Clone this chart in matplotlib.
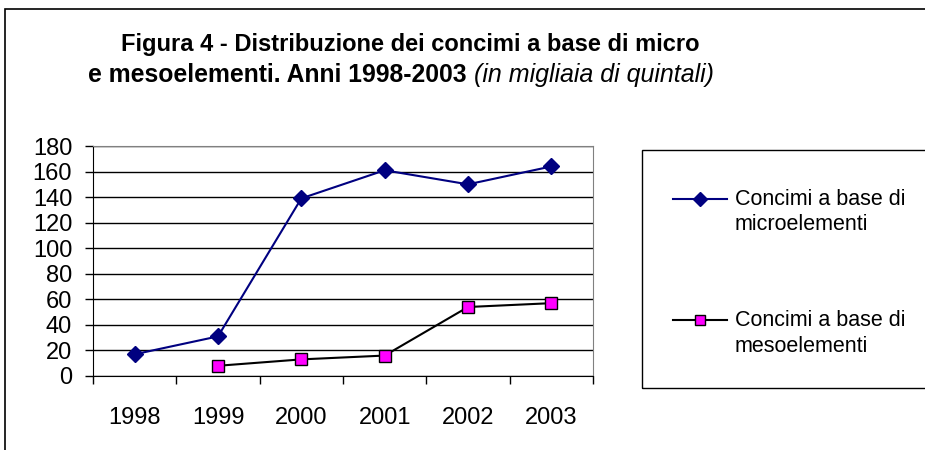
import matplotlib.pyplot as plt
from matplotlib.lines import Line2D
from matplotlib.patches import Rectangle

plt.rcParams['font.family'] = ['Liberation Sans', 'DejaVu Sans']

# Data (migliaia di quintali)
years = ["1998", "1999", "2000", "2001", "2002", "2003"]
micro = [17, 31, 139, 161, 150, 164]
meso_years = ["1999", "2000", "2001", "2002", "2003"]
meso = [8, 13, 16, 54, 57]
legend_labels = [("Concimi a base di", "microelementi"),
                 ("Concimi a base di", "mesoelementi")]

W, H = 925, 450
fig = plt.figure(figsize=(W / 100, H / 100), dpi=100)

# outer frame (only top and left edges are inside the picture)
fig.add_artist(Rectangle((5 / W, -0.1), 1.2, 0.98 + 0.1, transform=fig.transFigure,
                         fill=False, edgecolor="black", linewidth=1.2))

ax = fig.add_axes([93 / W, 1 - 376 / H, 500 / W, 230 / H])

x_micro = [years.index(y) for y in years]
x_meso = [years.index(y) for y in meso_years]
l1, = ax.plot(x_micro, micro, color="#000080", linewidth=1.5, marker="D",
              markersize=8.5, markerfacecolor="#000080", markeredgecolor="#000080")
l2, = ax.plot(x_meso, meso, color="black", linewidth=1.5, marker="s",
              markersize=8, markerfacecolor="#FF00FF", markeredgecolor="black")

ax.set_xlim(-0.5, len(years) - 0.5)
ax.set_ylim(0, 180)
ax.set_yticks(range(0, 181, 20))
ax.yaxis.grid(True, color="black", linewidth=1)
ax.set_axisbelow(True)

# ticks at category boundaries, labels centred on categories
ax.set_xticks([i - 0.5 for i in range(len(years) + 1)])
ax.set_xticklabels([])
ax.set_xticks(range(len(years)), minor=True)
ax.set_xticklabels(years, minor=True)
ax.tick_params(axis="x", which="major", direction="out", length=6, width=1)
ax.tick_params(axis="x", which="minor", length=0, pad=22, labelsize=17)
ax.tick_params(axis="y", direction="out", length=6, width=1, pad=9, labelsize=17)

ax.spines["top"].set_color("#808080")
ax.spines["right"].set_color("#808080")
ax.spines["left"].set_color("black")
ax.spines["bottom"].set_color("black")

# title: bold lines plus italic note
fig.text(410 / W, 1 - 45 / H, "Figura 4 - Distribuzione dei concimi a base di micro",
         ha="center", va="center", fontsize=17, fontweight="bold")
t2 = fig.text(88 / W, 1 - 75 / H, "e mesoelementi. Anni 1998-2003 ",
              ha="left", va="center", fontsize=17.8, fontweight="bold")
fig.add_artist(plt.Annotation("(in migliaia di quintali)", xy=(1, 0), xycoords=t2,
                              ha="left", va="bottom", fontsize=18, fontstyle="italic"))

# legend box
fig.add_artist(Rectangle((642 / W, 1 - 388 / H), 0.5, 238 / H, transform=fig.transFigure,
                         fill=False, edgecolor="black", linewidth=1))
for line, (a, b), yy in zip([l1, l2], legend_labels, [199, 320]):
    key = Line2D([673 / W, 727 / W], [1 - yy / H] * 2, transform=fig.transFigure,
                 color=line.get_color(), linewidth=1.5)
    mk = Line2D([700 / W], [1 - yy / H], transform=fig.transFigure,
                marker=line.get_marker(), markersize=7,
                markerfacecolor=line.get_markerfacecolor(),
                markeredgecolor=line.get_markeredgecolor(), linestyle="none")
    fig.add_artist(key)
    fig.add_artist(mk)
    fig.text(735 / W, 1 - yy / H, a, ha="left", va="center", fontsize=15.5)
    fig.text(735 / W, 1 - (yy + 26) / H, b, ha="left", va="center", fontsize=15.5)

fig.savefig("out.png", dpi=100)
